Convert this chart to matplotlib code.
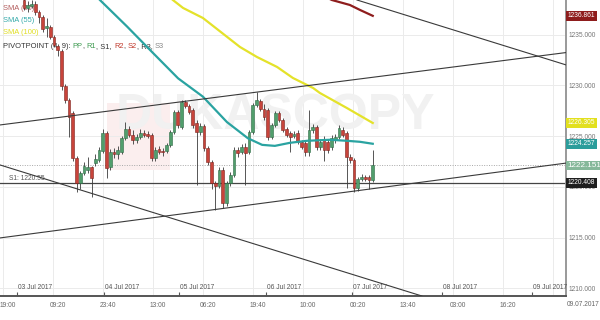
import numpy as np
import matplotlib.pyplot as plt
from matplotlib.transforms import blended_transform_factory
from matplotlib.patches import Rectangle

plt.rcParams.update({
    "font.family": ["Liberation Sans", "DejaVu Sans"],
    "axes.unicode_minus": False,
})

# hourly-ish candles
opens = [1238.4, 1237.6, 1237.8, 1238.0, 1237.2, 1236.7, 1235.7, 1235.8, 1234.8, 1233.9,
         1233.4, 1229.9, 1228.6, 1227.3, 1222.9, 1220.4, 1221.4, 1221.7, 1222.0, 1222.4,
         1222.7, 1223.5, 1225.3, 1222.0, 1223.4, 1223.2, 1223.4, 1224.8, 1225.7, 1225.1,
         1224.6, 1224.9, 1225.3, 1225.2, 1225.1, 1222.9, 1223.7, 1223.5, 1223.5, 1224.1,
         1225.4, 1227.4, 1225.9, 1228.4, 1228.0, 1227.6, 1226.3, 1225.4, 1226.0, 1223.8,
         1222.5, 1220.4, 1220.1, 1221.7, 1218.4, 1220.4, 1221.2, 1223.6, 1223.4, 1223.9,
         1223.4, 1225.4, 1228.1, 1228.5, 1227.7, 1227.6, 1224.9, 1226.1, 1227.3, 1226.6,
         1225.7, 1225.3, 1225.0, 1225.3, 1224.4, 1224.3, 1223.4, 1225.6, 1225.9, 1223.9,
         1224.7, 1224.4, 1223.9, 1224.6, 1224.9, 1225.6, 1225.3, 1223.0, 1222.7, 1219.9,
         1220.8, 1221.0, 1221.0, 1220.7]
highs = [1238.7, 1238.3, 1238.4, 1238.3, 1237.4, 1236.9, 1236.6, 1236.0, 1235.0, 1234.1,
         1233.6, 1230.1, 1228.8, 1227.5, 1223.1, 1221.6, 1222.5, 1223.0, 1222.1, 1223.2,
         1223.9, 1225.7, 1225.5, 1223.7, 1223.8, 1224.0, 1225.0, 1226.4, 1226.0, 1225.6,
         1225.2, 1225.7, 1225.6, 1225.5, 1225.3, 1223.9, 1224.0, 1223.8, 1224.3, 1225.6,
         1227.6, 1227.6, 1228.6, 1228.6, 1228.2, 1227.8, 1226.6, 1226.3, 1226.2, 1224.0,
         1222.7, 1220.6, 1222.0, 1222.0, 1220.6, 1221.5, 1223.9, 1223.9, 1224.2, 1224.3,
         1225.6, 1228.3, 1229.4, 1228.7, 1228.2, 1227.8, 1226.3, 1227.5, 1227.5, 1226.8,
         1225.9, 1225.5, 1225.5, 1225.6, 1224.6, 1224.5, 1227.6, 1226.2, 1226.1, 1224.7,
         1225.0, 1224.7, 1225.1, 1225.2, 1226.1, 1225.9, 1225.5, 1223.2, 1222.9, 1221.0,
         1221.3, 1221.2, 1221.2, 1223.6]
lows = [1237.4, 1237.2, 1237.6, 1236.9, 1236.2, 1235.3, 1234.8, 1234.6, 1233.8, 1232.9,
        1229.6, 1228.3, 1224.9, 1222.6, 1219.5, 1219.8, 1221.2, 1221.4, 1219.0, 1222.1,
        1222.5, 1223.3, 1220.9, 1221.7, 1222.9, 1222.8, 1223.2, 1224.6, 1224.9, 1224.2,
        1224.3, 1224.7, 1224.9, 1224.8, 1222.6, 1222.6, 1223.2, 1223.1, 1223.3, 1223.9,
        1225.2, 1225.8, 1225.7, 1227.8, 1227.2, 1225.8, 1220.2, 1225.1, 1223.5, 1222.2,
        1219.8, 1217.7, 1219.9, 1217.9, 1218.1, 1220.1, 1221.0, 1223.0, 1223.2, 1220.2,
        1223.2, 1225.2, 1227.9, 1227.5, 1226.6, 1224.6, 1224.7, 1225.9, 1226.4, 1225.4,
        1224.9, 1223.4, 1224.8, 1224.2, 1223.7, 1223.1, 1223.1, 1225.3, 1223.6, 1223.6,
        1222.6, 1223.3, 1223.6, 1224.3, 1224.7, 1224.9, 1219.9, 1222.4, 1219.5, 1219.6,
        1220.6, 1220.6, 1219.8, 1220.5]
closes = [1237.6, 1237.9, 1238.0, 1237.2, 1236.7, 1235.6, 1235.9, 1234.8, 1234.0, 1233.5,
          1229.9, 1228.6, 1226.9, 1222.9, 1220.4, 1221.4, 1222.1, 1222.0, 1220.9, 1222.8,
          1223.6, 1225.3, 1221.9, 1223.4, 1223.2, 1223.6, 1224.8, 1225.7, 1225.1, 1224.6,
          1224.9, 1225.3, 1225.1, 1225.0, 1222.9, 1223.6, 1223.4, 1223.4, 1224.1, 1225.4,
          1227.4, 1226.1, 1228.4, 1228.0, 1227.4, 1226.1, 1225.4, 1226.0, 1223.8, 1222.5,
          1220.4, 1220.1, 1221.7, 1218.4, 1220.4, 1221.2, 1223.6, 1223.3, 1223.9, 1223.3,
          1225.4, 1228.1, 1228.6, 1227.7, 1226.9, 1224.9, 1226.1, 1227.3, 1226.6, 1225.6,
          1225.1, 1224.9, 1225.2, 1224.4, 1223.9, 1223.4, 1225.6, 1225.9, 1223.9, 1224.4,
          1223.6, 1223.6, 1224.8, 1224.9, 1225.8, 1225.1, 1223.0, 1222.7, 1219.9, 1220.8,
          1221.0, 1220.8, 1220.7, 1222.151]

# moving averages (bar index, value)
sma20_idx = [80, 82.1, 86.9, 89.6, 93]
sma20_val = [1238.8, 1238.42, 1237.93, 1237.44, 1236.861]
sma55_idx = [18, 20.3, 27.5, 34.4, 41.1, 47.7, 54.1, 59.7, 63.5, 66.9, 70.9, 75.5, 81.6, 86.1, 89.6, 93]
sma55_val = [1239.3, 1238.4, 1235.8, 1233.2, 1230.7, 1228.9, 1226.4, 1224.8, 1224.15, 1224.05,
             1224.35, 1224.55, 1224.65, 1224.55, 1224.45, 1224.257]
sma100_idx = [37, 39.7, 42.4, 47.7, 57.6, 62.1, 67.5, 71.7, 77.1, 78.9, 86.1, 93]
sma100_val = [1239.3, 1238.42, 1237.64, 1236.65, 1233.79, 1232.81, 1231.82, 1230.74, 1229.75,
              1229.26, 1227.78, 1226.305]

# drawn trend lines: (x0, y0, x1, y1) in bar index / price
trend_lines = [
    (-6.4, 1226.11, 150, 1233.5),
    (88.8, 1238.42, 150, 1231.4),
    (-6.4, 1222.17, 106.1, 1209.26),
    (-6.4, 1214.98, 150, 1222.62),
]
s1_level = 1220.408
last_price = 1222.151

tags = [(1236.861, "#8e1d1d"), (1226.305, "#e2e01e"), (1224.257, "#2b9d9b"),
        (1220.408, "#1f1f1f")]

time_labels = ["19:00", "09:20", "23:40", "13:00", "06:20", "19:40",
               "10:00", "00:20", "13:40", "03:00", "16:20"]
date_labels = ["03 Jul 2017", "04 Jul 2017", "05 Jul 2017", "06 Jul 2017",
               "07 Jul 2017", "08 Jul 2017", "09 Jul 2017"]
date_pos = [-1.87, 21.3, 41.3, 64.5, 87.5, 111.5, 135.5]


def px2idx(px):
    return (px - 24) / 3.75


def main():
    fig = plt.figure(figsize=(6, 3.2), dpi=100)
    ax = fig.add_axes([0, 24 / 320, 566 / 600, 296 / 320])
    ax.set_xlim(px2idx(0), px2idx(566))
    ax.set_ylim(1209.26, 1238.42)

    # background grid
    for k in range(12):
        ax.axvline(px2idx(3 + 50 * k), color="#ebebeb", lw=0.7, zorder=0)
    ax.set_yticks([1210, 1215, 1220, 1225, 1230, 1235])
    ax.set_yticklabels([f"{v:.3f}" for v in [1210, 1215, 1220, 1225, 1230, 1235]])
    ax.grid(axis="y", color="#ebebeb", lw=0.7, zorder=0)
    ax.set_axisbelow(True)

    # watermark
    ax.add_patch(Rectangle((px2idx(107), 1220 + (187 - 170) / 10.15), 63 / 3.75, 67 / 10.15,
                           facecolor="#fbeeee", edgecolor="none", zorder=0.5))
    ax.text(px2idx(275), 1227.0, "DUKASCOPY", fontsize=36, fontweight="bold",
            color="#f1f1f1", ha="center", va="center", zorder=0.6)

    o = np.array(opens)
    c = np.array(closes)
    h = np.array(highs)
    l = np.array(lows)
    x = np.arange(len(o))
    up = c >= o
    body_lo = np.minimum(o, c)
    body_h = np.maximum(np.abs(c - o), 0.08)
    face = np.where(up, "#519e6c", "#c8443b")
    edge = np.where(up, "#2e6a45", "#7d231d")

    ax.vlines(x, l, h, color="#3a3a3a", lw=0.6, zorder=3)
    ax.bar(x, body_h, bottom=body_lo, width=0.72, color=face, edgecolor=edge,
           linewidth=0.4, zorder=4)

    ax.plot(sma20_idx, sma20_val, color="#8e1d1d", lw=1.6, zorder=5)
    ax.plot(sma55_idx, sma55_val, color="#2aa3a1", lw=1.6, zorder=5)
    ax.plot(sma100_idx, sma100_val, color="#e4e22a", lw=1.6, zorder=5)

    for x0, y0, x1, y1 in trend_lines:
        ax.plot([x0, x1], [y0, y1], color="#3a3a3a", lw=0.8, zorder=5)

    ax.axhline(s1_level, color="#444444", lw=0.9, zorder=2)
    ax.text(px2idx(9), s1_level + 0.12, "S1: 1220.55", fontsize=4.8, color="#555555",
            ha="left", va="bottom", zorder=2)
    ax.axhline(last_price, color="#a8a8a8", lw=0.7, ls=(0, (1, 1.5)), zorder=2)

    # legend text in the top-left corner
    ax.text(0.005, 1 - 8 / 296, "SMA (20)", transform=ax.transAxes, fontsize=5.4,
            color="#b35c5c", va="center", zorder=1)
    ax.text(0.005, 1 - 21 / 296, "SMA (55)", transform=ax.transAxes, fontsize=5.4,
            color="#35aaaa", va="center", zorder=1)
    ax.text(0.005, 1 - 33 / 296, "SMA (100)", transform=ax.transAxes, fontsize=5.4,
            color="#e0de22", va="center", zorder=1)
    pieces = [("PIVOTPOINT (4, 9): ", "#333333"), ("PP", "#3d9a50"), (", ", "#333333"),
              ("R1", "#3d9a50"), (", S1, ", "#333333"), ("R2", "#c0392b"),
              (", ", "#333333"), ("S2", "#c0392b"), (", R3, ", "#333333"), ("S3", "#888888")]
    prev = ax.text(0.005, 1 - 50 / 296, pieces[0][0], transform=ax.transAxes,
                   fontsize=5.4, color=pieces[0][1], va="bottom", zorder=1)
    for txt, col in pieces[1:]:
        prev = ax.annotate(txt, xy=(1, 0), xycoords=prev, fontsize=5.4, color=col,
                           va="bottom", ha="left", zorder=1)

    # right price axis
    ax.yaxis.tick_right()
    ax.tick_params(axis="y", length=0, pad=1.5, labelsize=4.8, labelcolor="#777777")
    trans = blended_transform_factory(ax.transAxes, ax.transData)
    for val, col in tags:
        ax.text(1.003, val, f"{val:.3f}", transform=trans, fontsize=4.8, color="white",
                ha="left", va="center", clip_on=False, zorder=6,
                bbox=dict(boxstyle="square,pad=0.25", fc=col, ec="none"))
    ax.text(1.002, last_price, f"{last_price:.3f}", transform=trans, fontsize=5.9,
            color="white", ha="left", va="center", clip_on=False, zorder=6,
            bbox=dict(boxstyle="square,pad=0.12", fc="#86b89a", ec="none"))

    # time axis
    ax.set_xticks([px2idx(8 + 50 * k) for k in range(len(time_labels))])
    ax.set_xticklabels(time_labels)
    ax.tick_params(axis="x", which="major", length=0, pad=4, labelsize=4.8,
                   labelcolor="#666666")
    ax.set_xticks(date_pos, minor=True)
    ax.tick_params(axis="x", which="minor", direction="in", length=3, width=0.8,
                   color="#555555")
    dtrans = blended_transform_factory(ax.transData, ax.transAxes)
    for pos, lab in zip(date_pos, date_labels):
        ax.text(pos + 0.2, 0.016, lab, transform=dtrans, fontsize=4.8, color="#555555",
                ha="left", va="bottom", zorder=6)
    fig.text(583 / 600, 1 - 305 / 320, "09.07.2017", fontsize=4.8, color="#666666",
             ha="center", va="center")

    for side in ["top", "left"]:
        ax.spines[side].set_visible(False)
    ax.spines["bottom"].set_color("#555555")
    ax.spines["bottom"].set_linewidth(1.4)
    ax.spines["right"].set_color("#999999")
    ax.spines["right"].set_linewidth(1.4)

    fig.savefig("out.png", dpi=100)


if __name__ == "__main__":
    main()
